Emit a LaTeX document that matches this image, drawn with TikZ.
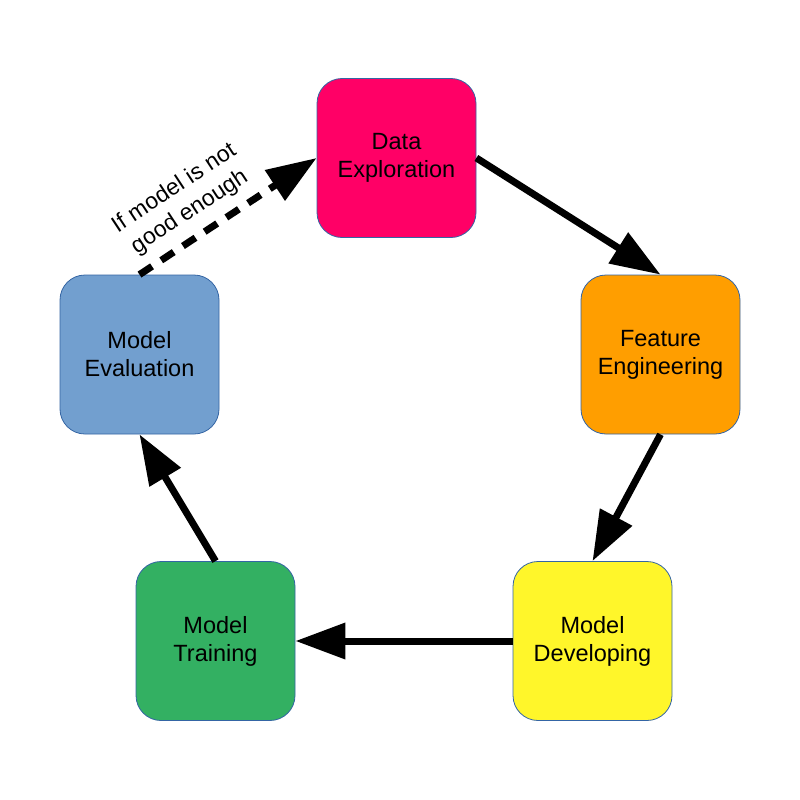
\documentclass[tikz,border=0pt]{standalone}
\usepackage{fontspec}
\setmainfont{Liberation Sans}
\usetikzlibrary{arrows.meta}
\definecolor{stageRed}{HTML}{FF0066}
\definecolor{stageOrange}{HTML}{FF9E00}
\definecolor{stageYellow}{HTML}{FFF62A}
\definecolor{stageGreen}{HTML}{33B062}
\definecolor{stageBlue}{HTML}{729FCF}
\definecolor{stageEdge}{HTML}{3465A4}
\begin{document}
\begin{tikzpicture}[x=1pt,y=-1pt,
  stagebox/.style={draw=stageEdge, line width=0.8pt, rounded corners=25pt,
    minimum width=159pt, minimum height=159pt, inner sep=0pt,
    align=center, font=\fontsize{23.5}{28}\selectfont, text=black},
  flow/.style={line width=7pt, -{Triangle[length=50pt,width=35pt]}},
  retry/.style={flow, dash pattern=on 15pt off 11pt}]
\useasboundingbox (0,0) rectangle (800,800);
\fill[white] (0,0) rectangle (800,800);

\node[stagebox, fill=stageRed]    (de) at (396.5,158)   {Data\\Exploration};
\node[stagebox, fill=stageOrange] (fe) at (660.5,354.5) {Feature\\Engineering};
\node[stagebox, fill=stageYellow] (md) at (592.5,641)   {Model\\Developing};
\node[stagebox, fill=stageGreen]  (mt) at (215.5,641)   {Model\\Training};
\node[stagebox, fill=stageBlue]   (me) at (139.5,354.5) {Model\\Evaluation};

\draw[flow] (de.east) -- (fe.north);
\draw[flow] (fe.south) -- (md.north);
\draw[flow] (md.west) -- (mt.east);
\draw[flow] (mt.north) -- (me.south);
\draw[retry] (me.north) -- node[pos=0.36, sloped, above=7pt, align=center,
  font=\fontsize{23}{28}\selectfont] {If model is not\\good enough} (de.west);
\end{tikzpicture}
\end{document}
